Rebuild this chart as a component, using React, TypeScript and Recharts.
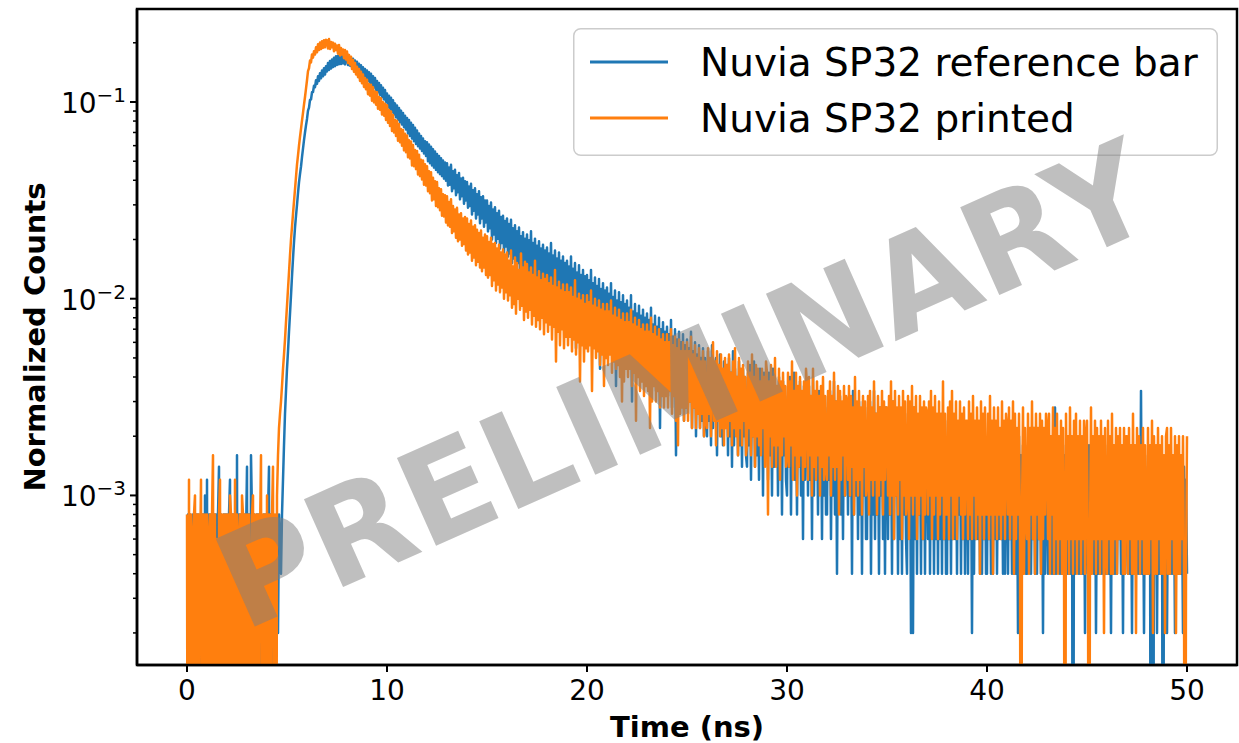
import { LineChart, Line, XAxis, YAxis, Legend, ReferenceArea } from 'recharts';

// time bins are 0.05 ns wide, starting at 0 ns
const TIME_STEP_NS = 0.05;
// raw counts per bin -> normalized counts
const COUNT_NORM = 5000;
// empty bins sit far below the log axis, like matplotlib clipping
const ZERO_FLOOR = 1e-6;

// Nuvia SP32 reference bar, counts per bin (one row = 1 ns)
const referenceBarCounts = [
  0, 4, 0, 4, 3, 0, 4, 0, 4, 4, 0, 4, 0, 3, 4, 0, 4, 0, 5, 0,
  6, 0, 4, 0, 4, 3, 0, 4, 0, 4, 0, 4, 7, 0, 4, 3, 0, 4, 0, 4,
  0, 4, 4, 6, 0, 4, 0, 4, 3, 0, 8, 0, 4, 0, 4, 4, 0, 4, 0, 3,
  7, 0, 4, 0, 8, 4, 0, 4, 0, 3, 4, 0, 4, 0, 4, 3, 0, 4, 0, 4,
  0, 4, 7, 0, 4, 0, 1, 1, 1, 1, 1, 1, 4, 3, 2, 4, 6, 9, 13, 17,
  22, 27, 34, 42, 52, 65, 80, 97, 115, 132, 150, 172, 195, 215, 235, 262, 290, 320, 350, 380,
  410, 452, 468, 512, 515, 560, 562, 605, 595, 645, 618, 675, 640, 700, 660, 722, 676, 742, 690, 760,
  715, 790, 728, 808, 740, 822, 752, 840, 760, 855, 772, 858, 778, 862, 780, 868, 785, 860, 776, 852,
  848, 770, 845, 765, 838, 752, 830, 740, 812, 726, 800, 708, 782, 692, 768, 676, 750, 662, 735, 648,
  722, 640, 708, 624, 695, 605, 676, 592, 662, 574, 640, 560, 625, 544, 608, 530, 590, 515, 575, 500,
  552, 470, 538, 458, 525, 444, 510, 432, 492, 418, 480, 406, 466, 395, 452, 384, 440, 372, 426, 362,
  415, 346, 405, 336, 392, 326, 382, 316, 370, 306, 358, 298, 346, 290, 336, 282, 326, 274, 316, 266,
  312, 250, 304, 244, 296, 238, 288, 232, 280, 226, 272, 220, 266, 215, 259, 210, 252, 204, 246, 199,
  244, 188, 232, 190, 240, 176, 222, 182, 226, 168, 212, 174, 218, 160, 204, 166, 206, 152, 198, 158,
  196, 145, 186, 148, 192, 134, 178, 140, 182, 128, 170, 134, 176, 121, 164, 128, 166, 116, 158, 122,
  158, 110, 148, 114, 154, 100, 142, 106, 146, 96, 136, 101, 140, 90, 130, 96, 132, 86, 124, 92,
  128, 82, 120, 85, 126, 76, 114, 80, 118, 71, 110, 76, 115, 68, 104, 72, 109, 64, 101, 70,
  106, 66, 99, 68, 110, 60, 96, 64, 101, 57, 93, 62, 98, 55, 90, 59, 94, 52, 88, 57,
  91, 53, 85, 56, 96, 49, 83, 52, 88, 47, 80, 51, 86, 44, 78, 49, 82, 43, 76, 47,
  78, 42, 73, 45, 82, 39, 71, 43, 76, 28, 68, 41, 74, 36, 66, 40, 70, 34, 65, 38,
  66, 36, 62, 39, 70, 33, 60, 37, 64, 32, 58, 36, 63, 22, 56, 35, 60, 30, 55, 34,
  57, 30, 53, 32, 60, 28, 51, 31, 55, 18, 49, 30, 54, 26, 48, 29, 52, 26, 47, 28,
  49, 25, 45, 27, 52, 15, 43, 26, 47, 22, 42, 25, 46, 21, 41, 24, 44, 21, 40, 23,
  42, 20, 39, 22, 45, 18, 37, 21, 41, 17, 36, 20, 40, 11, 35, 19, 38, 16, 34, 18,
  36, 16, 33, 18, 39, 14, 32, 17, 35, 8, 31, 16, 34, 13, 30, 15, 33, 12, 29, 14,
  31, 13, 28, 15, 34, 11, 27, 14, 30, 10, 26, 13, 29, 11, 25, 12, 28, 10, 25, 12,
  10, 27, 12, 24, 9, 29, 11, 22, 13, 25, 8, 23, 12, 26, 10, 21, 9, 24, 11, 22,
  23, 8, 25, 10, 21, 7, 27, 9, 22, 11, 20, 8, 24, 9, 19, 7, 22, 10, 20, 8,
  7, 21, 9, 23, 6, 19, 10, 24, 7, 20, 8, 18, 6, 22, 9, 19, 5, 21, 8, 19,
  19, 6, 21, 8, 17, 5, 22, 7, 18, 9, 16, 5, 20, 7, 17, 4, 19, 8, 16, 6,
  5, 18, 7, 20, 4, 16, 8, 21, 6, 17, 4, 15, 7, 19, 5, 16, 3, 18, 6, 17,
  16, 5, 18, 6, 15, 3, 20, 5, 16, 7, 14, 4, 17, 6, 15, 3, 16, 5, 14, 4,
  4, 16, 6, 17, 3, 14, 5, 19, 4, 15, 2, 14, 6, 16, 4, 13, 3, 15, 5, 14,
  14, 4, 16, 5, 13, 2, 17, 4, 14, 5, 12, 3, 15, 4, 13, 2, 15, 5, 12, 3,
  3, 14, 5, 15, 2, 12, 4, 17, 3, 13, 4, 12, 2, 14, 5, 12, 3, 13, 2, 14,
  12, 3, 14, 4, 11, 2, 15, 3, 12, 5, 11, 2, 13, 3, 11, 2, 14, 4, 10, 3,
  2, 13, 4, 12, 1, 10, 1, 14, 3, 11, 2, 12, 4, 10, 2, 13, 3, 11, 2, 12,
  11, 3, 13, 2, 10, 4, 12, 2, 11, 3, 10, 2, 13, 3, 10, 2, 12, 3, 9, 2,
  2, 12, 3, 10, 2, 13, 3, 10, 3, 11, 2, 9, 4, 12, 2, 10, 3, 11, 2, 10,
  10, 2, 11, 3, 9, 1, 12, 2, 10, 3, 9, 3, 11, 2, 9, 2, 10, 3, 9, 2,
  2, 10, 3, 9, 2, 11, 2, 9, 3, 10, 2, 8, 3, 10, 3, 9, 2, 10, 2, 9,
  9, 2, 10, 3, 8, 2, 11, 2, 9, 2, 8, 1, 10, 3, 8, 2, 9, 3, 9, 2,
  2, 9, 3, 10, 2, 8, 3, 11, 2, 9, 2, 8, 3, 9, 2, 8, 1, 10, 2, 8,
  8, 2, 9, 3, 10, 2, 8, 2, 14, 2, 8, 3, 9, 2, 7, 2, 9, 2, 8, 3,
  2, 9, 2, 8, 2, 9, 0, 8, 2, 7, 3, 9, 2, 8, 2, 7, 2, 9, 1, 8,
  7, 2, 9, 2, 7, 3, 8, 2, 9, 1, 7, 2, 8, 2, 7, 2, 8, 3, 9, 2,
  2, 8, 2, 7, 1, 9, 2, 7, 2, 8, 2, 7, 3, 8, 2, 7, 1, 9, 2, 7,
  7, 2, 8, 2, 7, 1, 8, 2, 6, 2, 8, 2, 7, 2, 17, 2, 7, 1, 8, 2,
  2, 7, 2, 6, 0, 8, 0, 7, 2, 6, 1, 7, 2, 6, 2, 7, 0, 6, 2, 7,
  1, 6, 2, 7, 2, 6, 2, 5, 1, 7, 2, 6, 2, 6, 2, 5, 1, 7, 2, 6,
  2,
];

// Nuvia SP32 printed, counts per bin (one row = 1 ns)
const printedCounts = [
  4, 0, 6, 0, 4, 3, 0, 4, 5, 0, 4, 0, 4, 2, 6, 0, 4, 0, 4, 0,
  4, 0, 3, 4, 0, 4, 8, 0, 4, 0, 3, 0, 4, 6, 0, 4, 0, 4, 1, 4,
  0, 4, 0, 5, 4, 0, 4, 0, 6, 0, 4, 3, 0, 4, 0, 5, 4, 0, 4, 0,
  4, 0, 4, 2, 0, 4, 5, 0, 4, 0, 4, 0, 4, 3, 8, 0, 4, 0, 4, 0,
  5, 0, 4, 0, 4, 4, 7, 0, 4, 0, 5, 8, 11, 13, 15, 18, 22, 26, 31, 38,
  46, 56, 68, 83, 100, 116, 135, 156, 180, 208, 240, 268, 300, 332, 365, 402, 440, 485, 530, 585,
  645, 718, 742, 812, 795, 872, 840, 905, 872, 948, 895, 982, 918, 1002, 930, 1018, 942, 1030, 948, 1035,
  1028, 935, 1045, 930, 1008, 948, 1002, 905, 990, 918, 968, 880, 975, 862, 940, 872, 925, 835, 918, 822,
  902, 790, 868, 775, 850, 735, 818, 712, 790, 690, 755, 668, 736, 640, 712, 622, 690, 596, 662, 580,
  648, 548, 618, 538, 612, 508, 594, 498, 565, 484, 560, 462, 530, 456, 522, 432, 498, 426, 490, 405,
  482, 392, 455, 378, 448, 356, 430, 350, 405, 336, 402, 318, 386, 312, 365, 300, 360, 284, 345, 278,
  338, 262, 320, 258, 315, 238, 302, 236, 285, 228, 282, 214, 270, 210, 254, 202, 252, 190, 241, 188,
  236, 176, 222, 172, 220, 158, 206, 160, 198, 148, 196, 146, 182, 141, 180, 132, 170, 131, 168, 122,
  166, 118, 155, 116, 160, 108, 148, 110, 142, 102, 145, 98, 134, 100, 136, 93, 128, 95, 130, 88,
  128, 84, 120, 86, 125, 78, 116, 81, 118, 74, 112, 77, 108, 72, 111, 69, 102, 72, 106, 66,
  104, 64, 97, 66, 102, 58, 95, 62, 96, 55, 90, 59, 94, 54, 86, 57, 89, 50, 84, 54,
  86, 49, 78, 52, 88, 45, 73, 47, 81, 42, 76, 50, 70, 44, 85, 46, 72, 39, 77, 43,
  75, 40, 68, 44, 72, 37, 66, 41, 78, 36, 64, 39, 69, 35, 62, 40, 67, 33, 63, 38,
  66, 34, 60, 37, 64, 31, 58, 36, 70, 24, 57, 34, 61, 29, 55, 35, 59, 28, 54, 32,
  59, 29, 54, 32, 57, 27, 51, 31, 62, 26, 50, 30, 53, 19, 49, 29, 52, 24, 47, 28,
  52, 27, 48, 29, 55, 17, 46, 28, 50, 25, 45, 27, 49, 23, 44, 26, 47, 18, 43, 25,
  47, 23, 43, 26, 49, 21, 41, 24, 45, 22, 40, 23, 44, 20, 39, 15, 42, 19, 38, 22,
  42, 20, 38, 22, 44, 18, 37, 21, 40, 12, 36, 20, 39, 17, 35, 19, 37, 16, 34, 18,
  37, 17, 34, 11, 40, 15, 33, 18, 36, 15, 32, 17, 35, 14, 31, 16, 33, 14, 30, 16,
  33, 14, 30, 17, 35, 13, 29, 16, 32, 12, 28, 9, 31, 13, 27, 14, 30, 12, 27, 14,
  30, 12, 27, 15, 32, 11, 26, 14, 29, 11, 25, 13, 28, 11, 24, 13, 27, 10, 24, 12,
  11, 28, 13, 25, 10, 22, 30, 12, 24, 9, 27, 12, 23, 10, 26, 11, 22, 9, 25, 11,
  23, 10, 26, 12, 21, 9, 24, 11, 28, 10, 20, 8, 25, 11, 22, 9, 23, 12, 20, 8,
  9, 24, 11, 21, 8, 26, 10, 20, 7, 23, 10, 22, 9, 19, 8, 22, 11, 20, 7, 24,
  21, 4, 19, 10, 23, 7, 20, 9, 25, 7, 18, 9, 22, 6, 19, 8, 21, 10, 18, 7,
  8, 21, 7, 19, 9, 24, 6, 17, 8, 21, 5, 18, 7, 20, 8, 17, 6, 19, 7, 22,
  18, 6, 20, 8, 16, 5, 22, 7, 17, 6, 19, 8, 16, 5, 18, 7, 20, 6, 16, 7,
  6, 17, 8, 19, 5, 16, 7, 21, 6, 15, 7, 18, 4, 17, 6, 15, 8, 18, 5, 16,
  15, 6, 18, 5, 16, 7, 14, 4, 20, 6, 15, 5, 17, 6, 14, 4, 16, 7, 15, 5,
  6, 16, 4, 17, 6, 14, 5, 19, 6, 13, 4, 16, 5, 14, 6, 17, 4, 15, 6, 14,
  14, 5, 16, 4, 19, 5, 15, 3, 17, 5, 14, 4, 16, 6, 14, 3, 17, 5, 15, 4,
  5, 16, 3, 15, 5, 18, 4, 14, 5, 16, 3, 13, 4, 16, 5, 14, 3, 15, 4, 14,
  13, 4, 15, 5, 17, 3, 14, 4, 16, 5, 13, 3, 15, 4, 13, 5, 19, 3, 13, 4,
  4, 14, 3, 15, 5, 17, 3, 13, 4, 15, 3, 12, 5, 15, 4, 13, 3, 14, 4, 12,
  12, 3, 15, 4, 13, 3, 16, 5, 12, 3, 14, 4, 12, 2, 15, 4, 13, 3, 14, 4,
  4, 13, 3, 16, 4, 12, 2, 14, 4, 12, 3, 14, 4, 11, 3, 15, 4, 12, 3, 13,
  11, 4, 14, 3, 12, 4, 15, 2, 13, 3, 11, 4, 13, 3, 0, 4, 14, 2, 11, 4,
  3, 13, 2, 11, 4, 15, 3, 11, 2, 13, 4, 11, 3, 13, 2, 12, 3, 11, 4, 13,
  11, 3, 13, 2, 10, 4, 14, 2, 11, 3, 13, 2, 10, 3, 12, 2, 11, 3, 0, 13,
  3, 10, 2, 14, 3, 10, 2, 12, 3, 13, 2, 10, 3, 12, 2, 10, 3, 12, 2, 10,
  12, 2, 0, 3, 14, 2, 10, 3, 12, 2, 11, 3, 10, 2, 12, 3, 10, 1, 11, 3,
  2, 12, 3, 10, 2, 13, 2, 9, 3, 11, 2, 10, 3, 11, 3, 9, 2, 11, 2, 10,
  10, 2, 11, 3, 9, 2, 13, 2, 9, 1, 11, 3, 10, 2, 9, 3, 11, 2, 9, 2,
  2, 11, 2, 9, 3, 12, 1, 10, 2, 9, 2, 11, 3, 9, 2, 10, 2, 8, 1, 10,
  11, 2, 9, 2, 11, 3, 8, 2, 10, 1, 9, 2, 10, 2, 8, 3, 10, 2, 0, 2,
  10,
];

const seriesNames = ['Nuvia SP32 reference bar', 'Nuvia SP32 printed'];
const seriesColors = ['#1f77b4', '#ff7f0e'];

const xTicks = [0, 10, 20, 30, 40, 50];
const yMajorTicks = [0.001, 0.01, 0.1];
const yMinorTicks = [
  0.0002, 0.0003, 0.0004, 0.0005, 0.0006, 0.0007, 0.0008, 0.0009,
  0.002, 0.003, 0.004, 0.005, 0.006, 0.007, 0.008, 0.009,
  0.02, 0.03, 0.04, 0.05, 0.06, 0.07, 0.08, 0.09,
  0.2,
];

const X_DOMAIN = [-2.5, 52.5];
const Y_DOMAIN = [1.374e-4, 0.297];

const toNorm = (c: number) => (c > 0 ? c / COUNT_NORM : ZERO_FLOOR);

const data = referenceBarCounts.map((c, i) => ({
  t: +(i * TIME_STEP_NS).toFixed(2),
  ref: toNorm(c),
  printed: toNorm(printedCounts[i]),
}));

const FONT = 'DejaVu Sans';

const XTick = ({ x, y, payload }: any) => (
  <g>
    <line x1={x} x2={x} y1={y} y2={y + 7} stroke="#000" strokeWidth={2} />
    <text x={x} y={y + 35} textAnchor="middle" fontFamily={FONT} fontSize={28} fill="#000">
      {payload.value}
    </text>
  </g>
);

const YTick = ({ x, y, payload }: any) => {
  const v = payload.value;
  const isMajor = yMajorTicks.some((m) => Math.abs(m - v) < m * 1e-6);
  if (!isMajor) {
    return <line x1={x - 4} x2={x} y1={y} y2={y} stroke="#000" strokeWidth={1.5} />;
  }
  const exp = Math.round(Math.log10(v));
  return (
    <g>
      <line x1={x - 7} x2={x} y1={y} y2={y} stroke="#000" strokeWidth={2} />
      <text x={x - 11} y={y + 11} textAnchor="end" fontFamily={FONT} fontSize={28} fill="#000">
        10
        <tspan dy={-11} fontSize={20}>{'\u2212' + Math.abs(exp)}</tspan>
      </text>
    </g>
  );
};

const LegendBox = () => (
  <svg width={645} height={128}>
    <rect x={0.75} y={0.75} width={643.5} height={126.5} rx={7} fill="#fff" fillOpacity={0.8} stroke="#cccccc" strokeWidth={1.5} />
    {seriesNames.map((name, i) => (
      <g key={name}>
        <line x1={17} x2={95} y1={34 + i * 56} y2={34 + i * 56} stroke={seriesColors[i]} strokeWidth={3} />
        <text x={127} y={34 + i * 56} dominantBaseline="central" fontFamily={FONT} fontSize={39} fill="#000">
          {name}
        </text>
      </g>
    ))}
  </svg>
);

export default function App() {
  return (
    <div style={{ position: 'absolute', left: 0, top: 0, width: 1239, height: 743, background: '#fff' }}>
      <LineChart width={1239} height={743} data={data} margin={{ top: 9, right: 2, bottom: 0, left: 0 }}>
        <XAxis
          dataKey="t"
          type="number"
          domain={X_DOMAIN}
          allowDataOverflow
          ticks={xTicks}
          interval={0}
          height={78}
          tickSize={0}
          tickMargin={0}
          tickLine={false}
          tick={<XTick />}
          axisLine={{ stroke: '#000', strokeWidth: 2.5 }}
          label={{
            content: ({ viewBox }: any) => (
              <text
                x={viewBox.x + viewBox.width / 2}
                y={viewBox.y + 72}
                textAnchor="middle"
                fontFamily={FONT}
                fontWeight="bold"
                fontSize={29}
                fill="#000"
              >
                Time (ns)
              </text>
            ),
          }}
        />
        <YAxis
          scale="log"
          type="number"
          domain={Y_DOMAIN}
          allowDataOverflow
          ticks={[...yMinorTicks, ...yMajorTicks].sort((a, b) => a - b)}
          interval={0}
          width={137}
          tickSize={0}
          tickMargin={0}
          tickLine={false}
          tick={<YTick />}
          axisLine={{ stroke: '#000', strokeWidth: 2.5 }}
          label={{
            content: ({ viewBox }: any) => (
              <text
                x={viewBox.x + 45}
                y={viewBox.y + viewBox.height / 2}
                transform={`rotate(-90 ${viewBox.x + 45} ${viewBox.y + viewBox.height / 2})`}
                textAnchor="middle"
                fontFamily={FONT}
                fontWeight="bold"
                fontSize={29}
                fill="#000"
              >
                Normalized Counts
              </text>
            ),
          }}
        />
        <Legend
          layout="vertical"
          align="center"
          verticalAlign="middle"
          wrapperStyle={{ position: 'absolute', left: 573, top: 28, width: 645, height: 128 }}
          content={<LegendBox />}
        />
        <Line
          type="linear"
          dataKey="ref"
          name={seriesNames[0]}
          stroke={seriesColors[0]}
          strokeWidth={2.5}
          strokeLinejoin="round"
          dot={false}
          activeDot={false}
          isAnimationActive={false}
        />
        <Line
          type="linear"
          dataKey="printed"
          name={seriesNames[1]}
          stroke={seriesColors[1]}
          strokeWidth={2.5}
          strokeLinejoin="round"
          dot={false}
          activeDot={false}
          isAnimationActive={false}
        />
        <ReferenceArea
          x1={X_DOMAIN[0]}
          x2={X_DOMAIN[1]}
          y1={Y_DOMAIN[0]}
          y2={Y_DOMAIN[1]}
          ifOverflow="visible"
          fill="none"
          stroke="#000"
          strokeWidth={2.5}
        />
      </LineChart>
      <svg width={1239} height={743} style={{ position: 'absolute', left: 0, top: 0, pointerEvents: 'none' }}>
        <text
          x={0}
          y={0}
          transform="translate(684 385) rotate(-24)"
          textAnchor="middle"
          dominantBaseline="central"
          fontFamily={FONT}
          fontWeight="bold"
          fontSize={132}
          fill="#808080"
          fillOpacity={0.5}
        >
          PRELIMINARY
        </text>
      </svg>
    </div>
  );
}
